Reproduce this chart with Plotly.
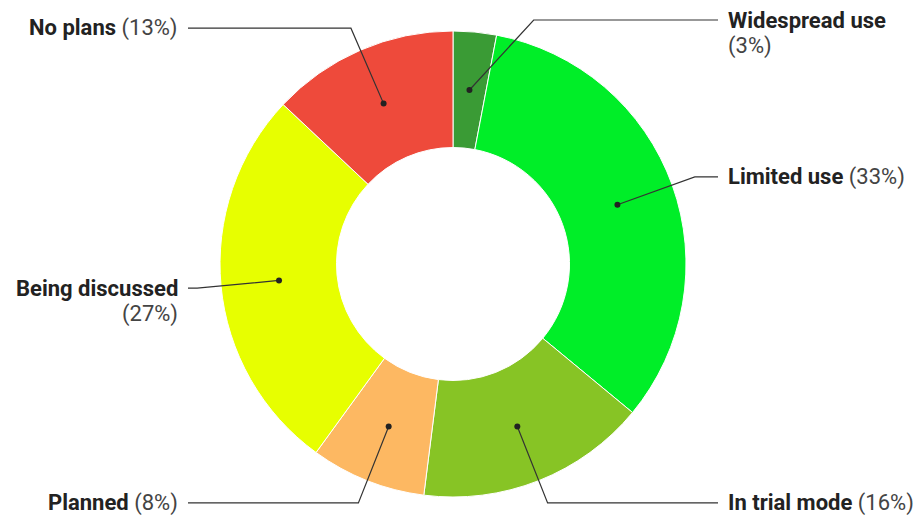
import numpy as np
import plotly.graph_objects as go

# ---- data ----
labels = ["Widespread use", "Limited use", "In trial mode", "Planned", "Being discussed", "No plans"]
values = [3, 33, 16, 8, 27, 13]
colors = ["#3a9b35", "#00ee28", "#87c425", "#fdb862", "#e7ff00", "#ee4a3b"]
wrapped = {"Widespread use", "Being discussed"}

# ---- layout geometry (pixels) ----
W, H = 919, 516
cx, cy = 453, 264
R_out = 233
hole = 0.5
R_in = R_out * hole
R_mid = (R_out + R_in) / 2
R_elbow = 257
y_lo, y_hi = 20, 503
left_line_end, right_line_end = 188, 718
text_gap = 8
line_step = 26
dot_r = 3
font = "Roboto, 'Noto Sans', Arial, sans-serif"

vals = np.array(values, dtype=float)
total = vals.sum()
start = np.concatenate([[0], np.cumsum(vals)[:-1]])
mid = (start + vals / 2) / total * 2 * np.pi

dot_x = cx + R_mid * np.sin(mid)
dot_y = cy - R_mid * np.cos(mid)

fig = go.Figure()
fig.add_trace(go.Pie(
    labels=labels, values=values, sort=False, direction="clockwise", rotation=0,
    hole=hole, textinfo="none", hoverinfo="label+percent", showlegend=False,
    marker=dict(colors=colors, line=dict(color="#ffffff", width=1)),
    domain=dict(x=[(cx - R_out) / W, (cx + R_out) / W],
                y=[1 - (cy + R_out) / H, 1 - (cy - R_out) / H]),
))
# invisible trace to create the pixel-space cartesian axes
fig.add_trace(go.Scatter(x=[0, W], y=[0, H], mode="markers",
                         marker=dict(opacity=0), hoverinfo="skip", showlegend=False))

shapes = []
annotations = []
for i, lab in enumerate(labels):
    side = 1 if np.sin(mid[i]) >= 0 else -1
    ey = cy - R_elbow * np.cos(mid[i])
    ey = min(max(ey, y_lo), y_hi)
    ex = cx + side * np.sqrt(max(R_elbow ** 2 - (ey - cy) ** 2, 0))
    end_x = right_line_end if side > 0 else left_line_end
    shapes.append(dict(
        type="path", xref="x", yref="y", layer="above",
        path=f"M {dot_x[i]:.2f},{dot_y[i]:.2f} L {ex:.2f},{ey:.2f} L {end_x:.2f},{ey:.2f}",
        line=dict(color="#333333", width=1.2)))
    shapes.append(dict(
        type="circle", xref="x", yref="y", layer="above",
        x0=dot_x[i] - dot_r, x1=dot_x[i] + dot_r, y0=dot_y[i] - dot_r, y1=dot_y[i] + dot_r,
        fillcolor="#222222", line=dict(width=0)))
    pct = f"({values[i] / total * 100:.0f}%)"
    tx = end_x + side * text_gap
    anchor = "left" if side > 0 else "right"
    if lab in wrapped:
        annotations.append(dict(
            x=tx, y=ey, xref="x", yref="y", text=f"<b>{lab}</b>", showarrow=False,
            xanchor=anchor, yanchor="middle",
            font=dict(family=font, size=22, color="#222222")))
        annotations.append(dict(
            x=tx, y=ey + line_step, xref="x", yref="y", text=pct, showarrow=False,
            xanchor=anchor, yanchor="middle",
            font=dict(family=font, size=22, color="#444444")))
    else:
        annotations.append(dict(
            x=tx, y=ey, xref="x", yref="y",
            text=f"<b>{lab}</b> <span style='color:#444444'>{pct}</span>", showarrow=False,
            xanchor=anchor, yanchor="middle",
            font=dict(family=font, size=22, color="#222222")))

fig.update_layout(
    width=W, height=H, margin=dict(l=0, r=0, t=0, b=0),
    paper_bgcolor="white", plot_bgcolor="rgba(0,0,0,0)",
    xaxis=dict(range=[0, W], visible=False, fixedrange=True),
    yaxis=dict(range=[H, 0], visible=False, fixedrange=True),
    shapes=shapes,
    annotations=annotations,
    font=dict(family=font),
)
fig.write_html("out.html")
